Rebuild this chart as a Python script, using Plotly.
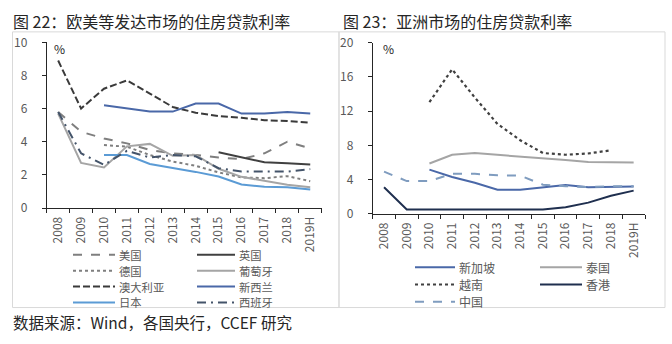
import plotly.graph_objects as go

W, H = 672, 344
def PX(x): return x / W
def PY(y): return 1 - y / H

years = ["2008", "2009", "2010", "2011", "2012", "2013", "2014", "2015", "2016", "2017", "2018", "2019H"]

# Left chart: developed markets (%)
us        = [5.8, 4.6, 4.2, 3.9, 3.5, 3.3, 3.2, 3.05, 2.95, 3.3, 4.0, 3.6]
uk        = [None, None, None, None, None, None, None, 3.37, 3.05, 2.76, 2.7, 2.63]
germany   = [None, None, 3.8, 3.7, 3.2, 2.8, 2.55, 2.15, 1.85, 1.8, 1.92, 1.62]
portugal  = [5.7, 2.72, 2.45, 3.72, 3.87, 3.15, 3.2, 2.37, 1.88, 1.65, 1.4, 1.25]
australia = [8.9, 6.0, 7.2, 7.7, 6.9, 6.1, 5.75, 5.55, 5.45, 5.3, 5.25, 5.15]
nz        = [None, None, 6.2, 6.0, 5.82, 5.82, 6.3, 6.3, 5.7, 5.7, 5.8, 5.7]
japan     = [None, None, 3.2, 3.2, 2.66, 2.43, 2.18, 1.9, 1.42, 1.28, 1.25, 1.12]
spain     = [5.8, 3.3, 2.6, 3.45, 3.05, 3.2, 3.12, 2.4, 2.2, 2.18, 2.2, 2.35]

# Right chart: Asian markets (%)
singapore = [None, None, 5.16, 4.3, 3.63, 2.81, 2.81, 3.05, 3.37, 3.1, 3.15, 3.18]
thailand  = [None, None, 5.87, 6.9, 7.09, 6.9, 6.72, 6.54, 6.28, 6.05, 6.0, 6.0]
vietnam   = [None, None, 13.05, 16.9, 13.6, 10.5, 8.6, 7.1, 6.9, 7.05, 7.42, None]
hongkong  = [3.1, 0.5, 0.5, 0.5, 0.5, 0.5, 0.5, 0.5, 0.75, 1.3, 2.1, 2.7]
china     = [4.93, 3.82, 3.82, 4.67, 4.67, 4.49, 4.45, 3.4, 3.22, 3.12, 3.2, 3.2]

left_ticks = [0, 2, 4, 6, 8, 10]
right_ticks = [0, 4, 8, 12, 16, 20]

left_series = [
    ("美国", us, "#7f7f7f", "dash"),
    ("英国", uk, "#404040", "solid"),
    ("德国", germany, "#7f7f7f", "dot"),
    ("葡萄牙", portugal, "#a5a5a5", "solid"),
    ("澳大利亚", australia, "#3a3a3a", "7px,3px"),
    ("新西兰", nz, "#4a68a8", "solid"),
    ("日本", japan, "#5b9bd5", "solid"),
    ("西班牙", spain, "#44546a", "9px,5px,2px,5px"),
]
right_series = [
    ("新加坡", singapore, "#4a68a8", "solid"),
    ("泰国", thailand, "#a5a5a5", "solid"),
    ("越南", vietnam, "#404040", "dot"),
    ("香港", hongkong, "#1f2f4f", "solid"),
    ("中国", china, "#7f9cbf", "dash"),
]

FONT = "Noto Sans CJK SC"
GREY = "#595959"

fig = go.Figure()
for name, vals, col, dash in left_series:
    fig.add_trace(go.Scatter(x=years, y=vals, mode="lines", name=name,
                             line=dict(color=col, width=2, dash=dash),
                             xaxis="x", yaxis="y", showlegend=False))
for name, vals, col, dash in right_series:
    fig.add_trace(go.Scatter(x=years, y=vals, mode="lines", name=name,
                             line=dict(color=col, width=2.2 if dash == "dot" else 2, dash=dash),
                             xaxis="x2", yaxis="y2", showlegend=False))

xax = dict(type="category", categoryorder="array", categoryarray=years,
           showline=True, linecolor="#262626", linewidth=1, ticks="outside", ticklen=4,
           tickcolor="#262626", tickson="boundaries", tickangle=-90, showgrid=False,
           zeroline=False, tickfont=dict(family=FONT, size=12, color=GREY), ticklabelstandoff=3,
           range=[-0.5, 11.5])
yax = dict(showline=True, linecolor="#262626", linewidth=1, ticks="outside", ticklen=4,
           tickcolor="#262626", showgrid=False, zeroline=False,
           tickfont=dict(family=FONT, size=12, color=GREY), ticklabelstandoff=12)

fig.update_layout(
    width=W, height=H, margin=dict(l=0, r=0, t=0, b=0),
    paper_bgcolor="white", plot_bgcolor="white", showlegend=False,
    xaxis=dict(xax, domain=[PX(46.7), PX(321.7)], anchor="y"),
    yaxis=dict(yax, domain=[PY(208.3), PY(34)], range=[0, 10], tickvals=left_ticks, anchor="x"),
    xaxis2=dict(xax, domain=[PX(372.7), PX(645)], anchor="y2"),
    yaxis2=dict(yax, domain=[PY(214.3), PY(34.5)], range=[0, 20], tickvals=right_ticks, anchor="x2"),
)

shapes = []
annotations = []
# panel boxes
shapes.append(dict(type="rect", xref="paper", yref="paper", x0=PX(12.5), x1=PX(339), y0=PY(313), y1=PY(23),
                   line=dict(color="#d9d9d9", width=1)))
shapes.append(dict(type="rect", xref="paper", yref="paper", x0=PX(339), x1=PX(665), y0=PY(313), y1=PY(23),
                   line=dict(color="#d9d9d9", width=1)))

def txt(x, y, s, size, color="#262626", anchor="left"):
    annotations.append(dict(xref="paper", yref="paper", x=PX(x), y=PY(y), text=s, showarrow=False,
                            xanchor=anchor, yanchor="middle", borderpad=0,
                            font=dict(family=FONT, size=size, color=color)))

txt(12, 12, "图 22：欧美等发达市场的住房贷款利率", 16)
txt(342, 12, "图 23：亚洲市场的住房贷款利率", 16)
txt(12, 328, "数据来源：Wind，各国央行，CCEF 研究", 15.5)
txt(53, 40, "%", 12, "#262626")
txt(382, 40, "%", 12, "#262626")

def legend(series, cols, rows_y, fsize):
    for i, (name, vals, col, dash) in enumerate(series):
        r, c = divmod(i, 2)
        lx0, lx1, tx = cols[c]
        y = rows_y[r]
        shapes.append(dict(type="line", xref="paper", yref="paper", x0=PX(lx0), x1=PX(lx1),
                           y0=PY(y), y1=PY(y), line=dict(color=col, width=2, dash=dash)))
        txt(tx, y, name, fsize, GREY)

legend(left_series, [(73, 115, 118), (197, 235, 238)], [257.5, 274.2, 290.9, 307.6], 11.3)
legend(right_series, [(415, 455, 458), (540, 582, 585)], [270.5, 288.7, 306.9], 12)

fig.update_layout(shapes=shapes, annotations=annotations)
fig.write_html("out.html")
